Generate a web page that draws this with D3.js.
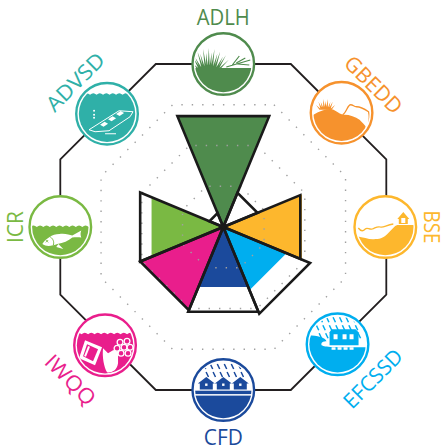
<!DOCTYPE html>
<html>
<head>
<meta charset="utf-8">
<script src="https://cdn.jsdelivr.net/npm/d3@7"></script>
<style>
html, body { margin: 0; padding: 0; background: #fff; }
svg { display: block; }
</style>
</head>
<body>
<div id="chart"></div>
<script>
// values, clockwise from the top
var categories = ["ADLH", "GBEDD", "BSE", "EFCSSD", "CFD", "IWQQ", "ICR", "ADVSD"];
var fillValues = [2.72, 0, 1.93, 1.55, 1.47, 2.04, 1.76, 0];
var outlineValues = [2.72, 0.84, 1.89, 2.13, 2.08, 2.04, 2.04, 0.34];
var gridLevels = [1, 2, 3];
var colors = ["#4f8b4d", "#f6922d", "#fdb72d", "#00aeef", "#1b4a9c", "#e91e8c", "#7ab943", "#2fb0a8"];

// label layout, in the same order as categories
var labelLengths = [53, 72, 33, 74, 39, 62, 32, 73];
var labelRadii = [209.5, 207, 208, 210, 210, 216, 207.5, 208];
var labelAngles = [0, 45, 90, -45, 0, 45, -90, -45];
var labelNudge = [[0, 0], [4, 4], [0, 0], [1, 3], [0, 0], [0, 0], [0, 0], [-1, 2]];
var iconNudge = [[0, 0], [3, 1], [-1, 0], [-1, 2], [0, 0], [-3, 3], [0, 0], [-1, 2]];

var width = 442, height = 448, cx = 223.3, cy = 227;
var outerLevel = 4;

var r = d3.scaleLinear().domain([0, outerLevel]).range([0, 163]);
var step = 2 * Math.PI / categories.length;
var half = step / 2;

var svg = d3.select("#chart").append("svg")
    .attr("width", width)
    .attr("height", height);

var g = svg.append("g")
    .attr("transform", "translate(" + cx + "," + cy + ")");

var radial = d3.lineRadial()
    .angle(function(d) { return d[0]; })
    .radius(function(d) { return d[1]; })
    .curve(d3.curveLinearClosed);

// wedge with a flat outer edge, value is measured along the axis
function wedge(i, v) {
    var a = i * step, rr = r(v) / Math.cos(half);
    return radial([[0, 0], [a - half, rr], [a + half, rr]]);
}

function ring(v) {
    var rr = r(v) / Math.cos(half);
    return radial(categories.map(function(c, i) { return [i * step + half, rr]; }));
}

// filled wedges
g.selectAll(".fillw")
    .data(fillValues)
    .enter().append("path")
    .attr("class", "fillw")
    .attr("d", function(d, i) { return d > 0 ? wedge(i, d) : null; })
    .attr("fill", function(d, i) { return colors[i]; });

// dotted grid
g.selectAll(".grid")
    .data(gridLevels)
    .enter().append("path")
    .attr("class", "grid")
    .attr("d", ring)
    .attr("fill", "none")
    .attr("stroke", "#a0a0a0")
    .attr("stroke-width", 1.4)
    .attr("stroke-dasharray", "1.4 9");

// outer octagon
g.append("path")
    .attr("d", ring(outerLevel))
    .attr("fill", "none")
    .attr("stroke", "#231f20")
    .attr("stroke-width", 1.8);

// wedge outlines
g.selectAll(".outline")
    .data(outlineValues)
    .enter().append("path")
    .attr("class", "outline")
    .attr("d", function(d, i) { return wedge(i, d); })
    .attr("fill", "none")
    .attr("stroke", "#1a1a1a")
    .attr("stroke-width", 2.6)
    .attr("stroke-linejoin", "miter");

// small pictures inside the circles, drawn around 0,0
function scallop(y, from, to) {
    var s = "M" + from + "," + y;
    for (var x = from; x < to; x += 6.5) s += "q3.25,-3.2 6.5,0";
    return s + "V40H" + from + "Z";
}

function spikes(p, col, x0, x1, y, top, n) {
    var d = "";
    for (var k = 0; k < n; k++) {
        var t = k / (n - 1);
        var bx = x0 + (x1 - x0) * t;
        var tipx = bx + (t - 0.5) * (x1 - x0) * 0.9;
        var tipy = top * (0.55 + 0.45 * Math.sin(Math.PI * t)) * (k % 2 ? 1 : 0.8);
        d += "M" + (bx - 1.1) + "," + y + "L" + tipx + "," + (y + tipy) + "L" + (bx + 1.1) + "," + y + "Z";
    }
    p.append("path").attr("d", d).attr("fill", col);
}

function rain(p, col, x0, x1, y0, y1, dx) {
    var d = "";
    for (var row = y0; row < y1; row += 8) {
        for (var x = x0 + (row - y0) * 0.35; x < x1; x += dx) {
            d += "M" + x + "," + row + "l2.4,5";
        }
    }
    p.append("path").attr("d", d).attr("stroke", col).attr("stroke-width", 1.5).attr("fill", "none");
}

function house(p, col, x, y) {
    p.append("path")
        .attr("d", "M" + (x - 8.5) + "," + (y + 5) + "L" + x + "," + (y - 1.5) + "L" + (x + 8.5) + "," + (y + 5) +
            "H" + (x + 6.5) + "V" + (y + 11) + "H" + (x - 6.5) + "V" + (y + 5) + "Z")
        .attr("fill", col);
    p.append("rect").attr("x", x - 1.2).attr("y", y + 5).attr("width", 2.4).attr("height", 2.4).attr("fill", "#fff");
}

var icons = {
    ADLH: function(p, c) {
        p.append("rect").attr("x", -30).attr("y", 4).attr("width", 60).attr("height", 30).attr("fill", c);
        spikes(p, c, -25, -4, 5, -21, 15);
        p.append("path")
            .attr("d", "M3,3L27,-4M9,1L16,-8M14,0L26,1M13,-1L22,-6")
            .attr("stroke", c).attr("stroke-width", 1.2).attr("fill", "none");
    },
    GBEDD: function(p, c) {
        p.append("path")
            .attr("d", "M-30,3C-20,-3 -12,-5 -8,-3C-3,0 0,2 3,2C8,2 14,4 18,7C22,11 24,13 24,14L24,40L-30,40Z")
            .attr("fill", c);
        spikes(p, c, -21, -11, -3, -11, 9);
        p.append("path")
            .attr("d", "M1,2C5,0 6,-8 9,-8C12,-8 12,-6 15,-6C18,-6 24,-3 27,-1C28,3 28,6 27,10")
            .attr("stroke", c).attr("stroke-width", 1.3).attr("fill", "none");
    },
    BSE: function(p, c) {
        p.append("path")
            .attr("d", "M-30,9C-22,10 -16,13 -10,12C-4,12 -1,10 3,6C7,2 9,-1 12,-2L30,-2L30,40L-30,40Z")
            .attr("fill", c);
        p.append("path")
            .attr("d", "M-27,1C-24,5 -22,4 -20,2C-18,0 -16,3 -13,2C-10,1 -8,-1 -5,0C-2,1 1,-2 8,-3")
            .attr("stroke", c).attr("stroke-width", 1.3).attr("fill", "none");
        p.append("path")
            .attr("d", "M12,-8L18,-15L24,-8H22.5V-3H13.5V-8Z")
            .attr("fill", c);
        p.append("rect").attr("x", 16).attr("y", -9).attr("width", 4).attr("height", 5).attr("fill", "#fff");
    },
    EFCSSD: function(p, c) {
        rain(p, c, -24, 28, -27, -8, 6.5);
        p.append("path")
            .attr("d", "M-30,-9C-22,-9 -12,-7 -11,-3C-14,-3 -17,-2 -16,1C-12,3 -5,3 30,3V40H-30Z")
            .attr("fill", c);
        p.append("path")
            .attr("d", "M-8,-12L-6,-15L18,-15L21,-12V1H-8Z")
            .attr("fill", c);
        p.selectAll(".win").data([-4, 5, 12]).enter().append("rect")
            .attr("x", function(d) { return d; }).attr("y", -10)
            .attr("width", 4).attr("height", 5).attr("fill", "#fff");
        p.selectAll(".pile").data([-6, 0, 6, 12]).enter().append("rect")
            .attr("x", function(d) { return d; }).attr("y", 3)
            .attr("width", 4).attr("height", 2.5).attr("fill", "#fff");
    },
    CFD: function(p, c) {
        rain(p, c, -20, 24, -26, -15, 7);
        [-17, 0, 17].forEach(function(x) { house(p, c, x, -11.5); });
        p.append("rect").attr("x", -30).attr("y", 0.7).attr("width", 60).attr("height", 3.4).attr("fill", c);
        p.append("rect").attr("x", -30).attr("y", 5.6).attr("width", 60).attr("height", 30).attr("fill", c);
    },
    IWQQ: function(p, c) {
        p.append("path").attr("d", scallop(-11, -30, 30)).attr("fill", c);
        p.append("path").attr("d", "M-20,-5L-3,2L-10,20L-26,13Z").attr("fill", "#fff");
        p.append("path").attr("d", "M-18,-1L-7,4L-12,16L-22,11Z").attr("fill", c);
        p.append("path").attr("d", "M-16,1L-20,11").attr("stroke", "#fff").attr("stroke-width", 2);
        p.append("path")
            .attr("d", "M-2,3L3,8L8,5L13,4L13,18C12,26 5,28 2,27C-1,22 -3,12 -2,3Z")
            .attr("fill", "#fff");
        p.selectAll(".bub").data([[15, -3], [22, -4], [12, 3], [19, 2], [25, 2], [16, 8], [23, 8]]).enter().append("circle")
            .attr("cx", function(d) { return d[0]; }).attr("cy", function(d) { return d[1]; })
            .attr("r", 2.9).attr("fill", c).attr("stroke", "#fff").attr("stroke-width", 1.3);
    },
    ICR: function(p, c) {
        p.append("path").attr("d", scallop(0, -30, 30)).attr("fill", c);
        p.append("path")
            .attr("d", "M-18,17C-15,12 -8,7 -1,7C5,6 9,8 12,8.5C15,7 18,5 21,3.5C20,6 20,8 21,10.5C18,10 15,10 12,10.5C8,14 3,16 -3,17C-8,19 -14,20 -18,17Z")
            .attr("fill", "#fff");
        p.append("path").attr("d", "M-2,17L3,22L-4,20Z").attr("fill", "#fff");
        p.append("path").attr("d", "M-10,10C-7,12 -6,15 -7,18").attr("stroke", c).attr("stroke-width", 1).attr("fill", "none");
        p.append("path").attr("d", "M-14.5,13l2.4,2.4M-12.1,13l-2.4,2.4").attr("stroke", c).attr("stroke-width", 0.9);
    },
    ADVSD: function(p, c) {
        p.append("path").attr("d", scallop(-19, -30, 30)).attr("fill", c);
        p.append("path")
            .attr("d", "M-18,16L12,-3L26,-2L23,3L2,17L-12,18Z")
            .attr("fill", c).attr("stroke", "#fff").attr("stroke-width", 1);
        p.selectAll(".seat").data([0, 1, 2]).enter().append("path")
            .attr("d", function(k) { return "M" + (-7 + k * 8) + "," + (11 - k * 5.4) + "l4.5,-3l3.5,2l-4.5,3Z"; })
            .attr("fill", "#fff");
        p.append("path").attr("d", "M-2,20H9").attr("stroke", "#fff").attr("stroke-width", 1.2);
        p.selectAll(".bub").data([[-13, -3], [-13, 1], [-13, 4]]).enter().append("circle")
            .attr("cx", function(d) { return d[0]; }).attr("cy", function(d) { return d[1]; })
            .attr("r", 1).attr("fill", "#fff");
    }
};

var defs = svg.append("defs");
defs.append("clipPath").attr("id", "inner").append("circle").attr("r", 28.2);

var icon = g.selectAll(".icon")
    .data(categories)
    .enter().append("g")
    .attr("class", "icon")
    .attr("transform", function(d, i) {
        var a = i * step;
        return "translate(" + (r(outerLevel) * Math.sin(a) + iconNudge[i][0]) + "," + (-r(outerLevel) * Math.cos(a) + iconNudge[i][1]) + ")";
    });

icon.append("circle")
    .attr("r", 30.8)
    .attr("fill", "#fff")
    .attr("stroke", function(d, i) { return colors[i]; })
    .attr("stroke-width", 2.4);

icon.each(function(d, i) {
    var p = d3.select(this).append("g").attr("clip-path", "url(#inner)");
    icons[d](p, colors[i]);
});

// labels run around the chart
g.selectAll(".label")
    .data(categories)
    .enter().append("text")
    .attr("class", "label")
    .attr("transform", function(d, i) {
        var a = i * step;
        return "translate(" + (labelRadii[i] * Math.sin(a) + labelNudge[i][0]) + "," + (-labelRadii[i] * Math.cos(a) + labelNudge[i][1]) + ") rotate(" + labelAngles[i] + ")";
    })
    .attr("text-anchor", "middle")
    .attr("dy", "0.36em")
    .attr("font-family", "'Open Sans', sans-serif")
    .attr("font-size", 21)
    .attr("textLength", function(d, i) { return labelLengths[i]; })
    .attr("lengthAdjust", "spacingAndGlyphs")
    .attr("fill", function(d, i) { return colors[i]; })
    .text(function(d) { return d; });
</script>
</body>
</html>
